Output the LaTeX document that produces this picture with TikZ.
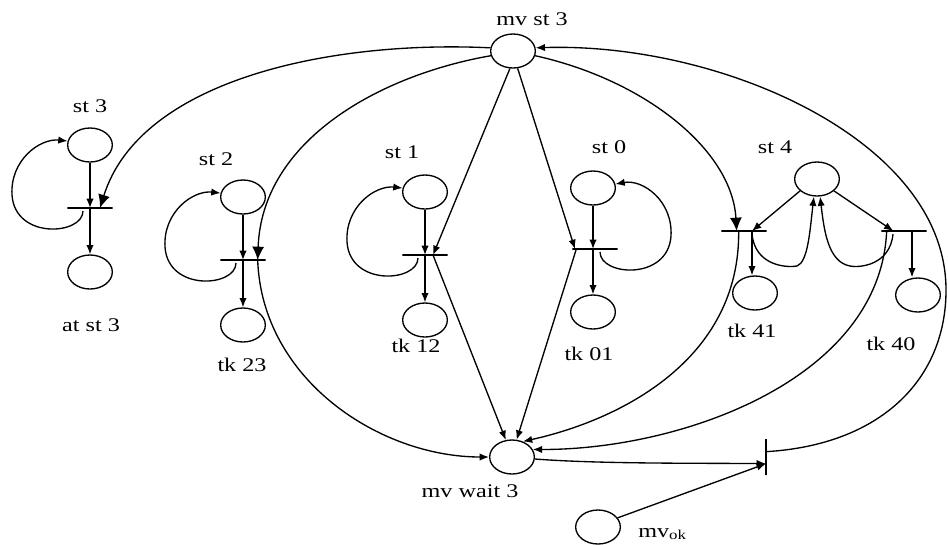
\documentclass[tikz,border=0pt]{standalone}
\usepackage{fontspec}
\setmainfont{Liberation Serif}[FakeStretch=1.25]
\usetikzlibrary{arrows.meta,shapes.geometric}
\tikzset{
  place/.style={draw, ellipse, line width=1pt, minimum width=33.5pt, minimum height=25.5pt, inner sep=0pt},
  hbar/.style={draw, line width=1pt, minimum width=34pt, minimum height=0pt, inner sep=0pt},
  vbar/.style={draw, line width=1pt, minimum width=0pt, minimum height=27pt, inner sep=0pt},
  arc/.style={line width=1pt, -{Latex[length=7pt,width=5.5pt]}},
  bigarc/.style={line width=1pt, -{Latex[length=10pt,width=9pt]}},
  lbl/.style={font=\fontsize{14.5}{17}\selectfont, inner sep=0pt, anchor=base},
}
\begin{document}
\begin{tikzpicture}[x=0.75pt, y=-0.75pt]
\useasboundingbox (0,0) rectangle (948,544);
%
% Place mv st 3
\node[place] (mvst) at (513,51) {};
\node[lbl] (mvstl) at (532,25) {mv st 3};
% Place mv wait 3
\node[place] (mvwait) at (512,457) {};
\node[lbl] (mvwaitl) at (470,497) {mv wait 3};
% Place mv ok
\node[place] (mvok) at (598,527) {};
\node[lbl, anchor=base west] (mvokl) at (638,537) {mv\textsubscript{ok}};
% Transition of mv wait 3
\node[vbar] (fin) at (766,457) {};
%
% st 3
\node[place] (st3) at (90,145) {};
\node[lbl] (st3l) at (90,112) {st 3};
\node[hbar] (t3) at (90,208) {};
\node[place] (atst3) at (90,272) {};
\node[lbl] (atst3l) at (91,331) {at st 3};
% st 2
\node[place] (st2) at (243,197) {};
\node[lbl] (st2l) at (216,165) {st 2};
\node[hbar] (t2) at (243,260) {};
\node[place] (tk23) at (243,325) {};
\node[lbl] (tk23l) at (242,371) {tk 23};
% st 1
\node[place] (st1) at (425,192) {};
\node[lbl] (st1l) at (402,158) {st 1};
\node[hbar] (t1) at (425,255) {};
\node[place] (tk12) at (425,320) {};
\node[lbl] (tk12l) at (416,352) {tk 12};
% st 0
\node[place] (st0) at (593,188) {};
\node[lbl] (st0l) at (609,153) {st 0};
\node[hbar] (t0) at (595,249) {};
\node[place] (tk01) at (593,312) {};
\node[lbl] (tk01l) at (589,360) {tk 01};
% st 4
\node[place] (st4) at (817,179) {};
\node[lbl] (st4l) at (775,153) {st 4};
\node[hbar] (t41) at (744,231) {};
\node[hbar] (t40) at (904,231) {};
\node[place] (tk41) at (755,293) {};
\node[lbl] (tk41l) at (752,337) {tk 41};
\node[place] (tk40) at (918,295) {};
\node[lbl] (tk40l) at (891,350) {tk 40};
%
% Segments st 3
\draw[arc] (st3.south) -- (t3.center);
\draw[arc] (t3.center) -- (atst3.north);
\draw[arc] (83,211) .. controls (83,235) and (15,240) .. (12,195) .. controls (10,160) and (40,138) .. (st3.170);
% Segments st 2
\draw[arc] (st2.south) -- (t2.center);
\draw[arc] (t2.center) -- (tk23.north);
\draw[arc] (236,263) .. controls (236,287) and (168,292) .. (165,247) .. controls (163,212) and (193,190) .. (st2.170);
% Segments st 1
\draw[arc] (st1.south) -- (t1.center);
\draw[arc] (t1.center) -- (tk12.north);
\draw[arc] (418,258) .. controls (418,282) and (350,287) .. (347,242) .. controls (345,207) and (375,185) .. (st1.170);
% Segments st 0
\draw[arc] (st0.south) -- (st0.south |- t0.center);
\draw[arc] (st0.south |- t0.center) -- (tk01.north);
\draw[arc] (600,252) .. controls (600,276) and (668,281) .. (671,236) .. controls (673,201) and (643,179) .. (st0.10);
% Segments st 4
\draw[arc] (st4.-145) -- ([xshift=6pt]t41.center);
\draw[arc] (st4.-35) -- ([xshift=-8pt]t40.center);
\draw[arc] ([xshift=6pt]t41.center) -- ([xshift=6pt]t41.center |- tk41.north);
\draw[arc] ([xshift=6pt]t40.center) -- ([xshift=6pt]t40.center |- tk40.north);
\draw[arc] (752,234) .. controls (755,265) and (785,268) .. (797,266) .. controls (808,262) and (810,230) .. (st4.-100);
\draw[arc] (893,234) .. controls (890,265) and (860,268) .. (850,266) .. controls (828,262) and (824,230) .. (st4.-80);
%
% Segments from mv st 3
\draw[bigarc] (mvst.172) .. controls (330,40) and (140,80) .. ([xshift=7.5pt]t3.center);
\draw[bigarc] (mvst.192) .. controls (380,75) and (262,140) .. ([xshift=11pt]t2.center);
\draw[arc] (mvst.-100) -- ([xshift=6pt]t1.center);
\draw[arc] (mvst.-75) -- ([xshift=-15pt]t0.center);
\draw[bigarc] (mvst.-12) .. controls (645,80) and (732,150) .. ([xshift=-5.5pt]t41.center);
%
% Segments to mv wait 3
\draw[arc] ([xshift=11pt]t2.center) .. controls (262,380) and (380,457) .. (mvwait.180);
\draw[arc] ([xshift=6pt]t1.center) -- (mvwait.110);
\draw[arc] ([xshift=-14pt]t0.center) -- (mvwait.75);
\draw[arc] ([xshift=-4pt]t41.center) .. controls (740,360) and (620,420) .. (mvwait.55);
\draw[arc] ([xshift=-13pt]t40.center) .. controls (880,380) and (680,450) .. (mvwait.20);
%
% Segments of the transition
\draw[arc] (mvwait.-5) .. controls (600,464) and (700,463) .. ([yshift=-5pt]fin.center);
\draw[arc] (mvok.25) -- ([yshift=-5pt]fin.center);
\draw[arc] ([yshift=4pt]fin.center) .. controls (880,445) and (946,380) .. (946,290) .. controls (946,140) and (720,42) .. (mvst.8);
\end{tikzpicture}
\end{document}
